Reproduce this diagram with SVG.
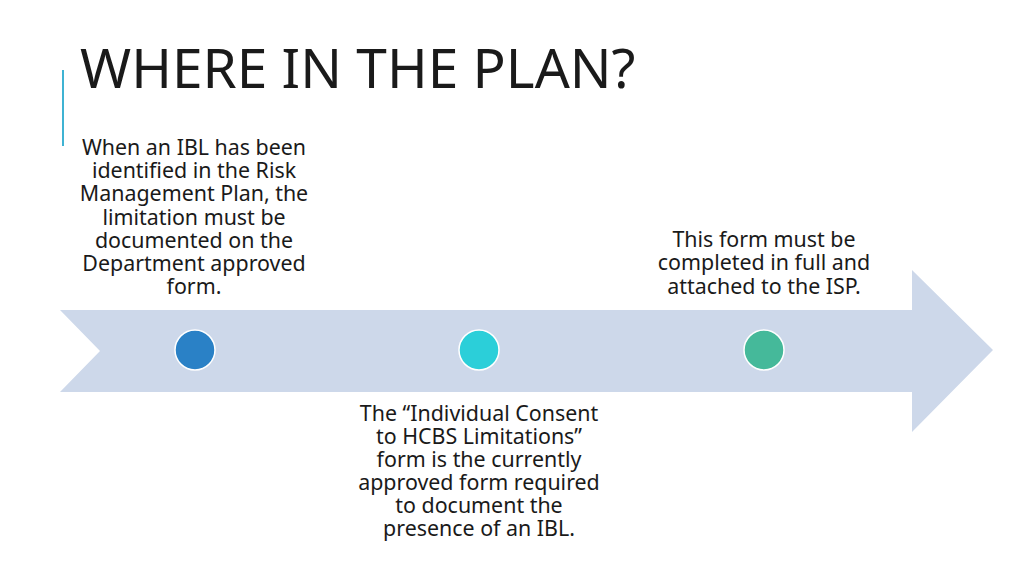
<svg xmlns="http://www.w3.org/2000/svg" width="1024" height="575" viewBox="0 0 1024 575">
<style>
.t{font-family:"Noto Sans","Open Sans","Liberation Sans",sans-serif;fill:#1a1a1a}
.b{font-size:21.4px;text-anchor:middle}
.dot{stroke:#ffffff;stroke-width:1.5}
</style>
<rect width="1024" height="575" fill="#ffffff"/>
<line x1="63" y1="70" x2="63" y2="146" stroke="#3fb3d3" stroke-width="2"/>
<text class="t" x="80" y="88" font-size="55">WHERE IN THE PLAN?</text>
<g id="connectors">
<path d="M60,310 L912,310 L912,270 L993,350 L912,432 L912,392 L60,392 L100,351 Z" fill="#cdd8ea"/>
</g>
<g id="node1">
<circle class="dot" cx="195" cy="350" r="20" fill="#2a81c6"/>
<text class="t b" x="194" y="155">When an IBL has been</text>
<text class="t b" x="194" y="178">identified in the Risk</text>
<text class="t b" x="194" y="201">Management Plan, the</text>
<text class="t b" x="194" y="225">limitation must be</text>
<text class="t b" x="194" y="248">documented on the</text>
<text class="t b" x="194" y="271">Department approved</text>
<text class="t b" x="194" y="294">form.</text>
</g>
<g id="node2">
<circle class="dot" cx="479" cy="350" r="20" fill="#2bcfd9"/>
<text class="t b" x="479" y="421">The “Individual Consent</text>
<text class="t b" x="479" y="444">to HCBS Limitations”</text>
<text class="t b" x="479" y="467">form is the currently</text>
<text class="t b" x="479" y="490">approved form required</text>
<text class="t b" x="479" y="513">to document the</text>
<text class="t b" x="479" y="536">presence of an IBL.</text>
</g>
<g id="node3">
<circle class="dot" cx="764" cy="350" r="20" fill="#45b99a"/>
<text class="t b" x="764" y="247">This form must be</text>
<text class="t b" x="764" y="270">completed in full and</text>
<text class="t b" x="764" y="294">attached to the ISP.</text>
</g>
</svg>
